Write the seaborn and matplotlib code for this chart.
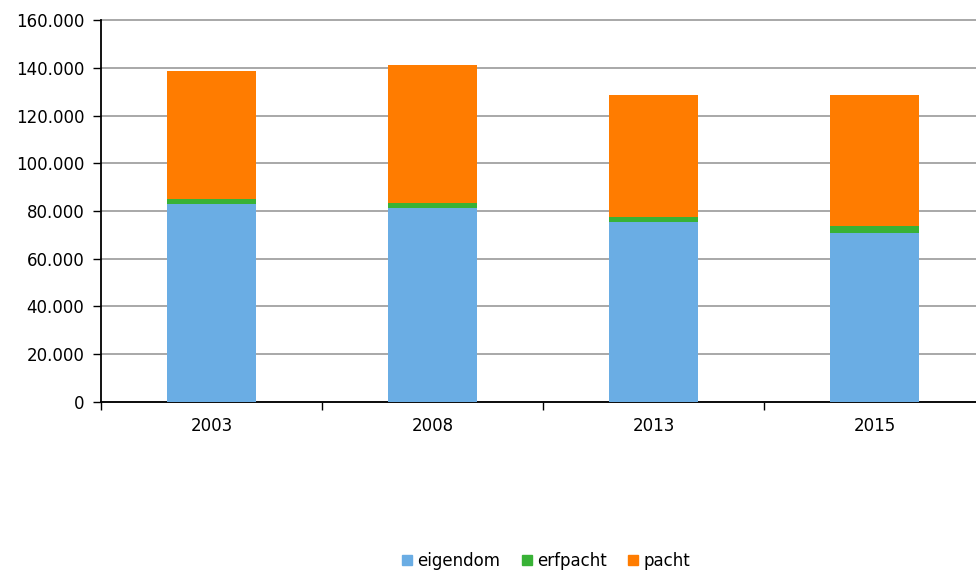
import pandas as pd
import seaborn as sns
import matplotlib.pyplot as plt
from matplotlib.ticker import FuncFormatter, FixedLocator
from matplotlib.patches import Patch

years = ["2003", "2008", "2013", "2015"]
eigendom = [82900, 81100, 75200, 70800]
erfpacht = [2300, 2100, 2400, 2800]
pacht = [53400, 58000, 51000, 55200]

series = ["eigendom", "erfpacht", "pacht"]
colors = ["#6AADE4", "#38B236", "#FF7C00"]

df = pd.DataFrame({"jaar": years, "eigendom": eigendom, "erfpacht": erfpacht, "pacht": pacht})
df["cum_erfpacht"] = df["eigendom"] + df["erfpacht"]
df["cum_pacht"] = df["cum_erfpacht"] + df["pacht"]

sns.set_style("white")
plt.rcParams["font.family"] = ["DejaVu Sans"]
plt.rcParams["font.size"] = 12
plt.rcParams["text.color"] = "black"
plt.rcParams["xtick.color"] = "black"
plt.rcParams["ytick.color"] = "black"

fig = plt.figure(figsize=(9.76, 5.74), dpi=100)
ax = fig.add_axes([101 / 976, 1 - 401.7 / 574, 884 / 976, 381.4 / 574])

# stacked: draw totals first, then smaller cumulative sums over them
for col, c in zip(["cum_pacht", "cum_erfpacht", "eigendom"], colors[::-1]):
    sns.barplot(data=df, x="jaar", y=col, color=c, width=0.4, saturation=1,
                ax=ax, linewidth=0, zorder=3)

ax.set_ylim(0, 160000)
ax.set_xlim(-0.5, 3.5)
ax.set_yticks(range(0, 160001, 20000))
ax.yaxis.set_major_formatter(FuncFormatter(lambda v, p: f"{int(v):,}".replace(",", ".")))
ax.yaxis.grid(True, color="#999999", linewidth=1.2, zorder=0, clip_on=False)
ax.set_axisbelow(True)

for s in ["top", "right"]:
    ax.spines[s].set_visible(False)
for s in ["left", "bottom"]:
    ax.spines[s].set_color("black")
    ax.spines[s].set_linewidth(1.3)

ax.tick_params(axis="y", which="major", length=6, width=1, color="black", pad=6, left=True)
ax.tick_params(axis="x", which="major", length=0, pad=11)
ax.xaxis.set_minor_locator(FixedLocator([-0.5, 0.5, 1.5, 2.5, 3.5]))
ax.tick_params(axis="x", which="minor", length=6, width=1, color="black", bottom=True)
ax.set_xlabel("")
ax.set_ylabel("")

handles = [Patch(color=c, label=s) for s, c in zip(series, colors)]
fig.legend(handles=handles, loc="center", bbox_to_anchor=(546 / 976, 1 - 561 / 574),
           ncol=3, frameon=False, handlelength=0.6, handleheight=0.6,
           handletextpad=0.3, columnspacing=1.3)

plt.savefig("out.png", dpi=100)
